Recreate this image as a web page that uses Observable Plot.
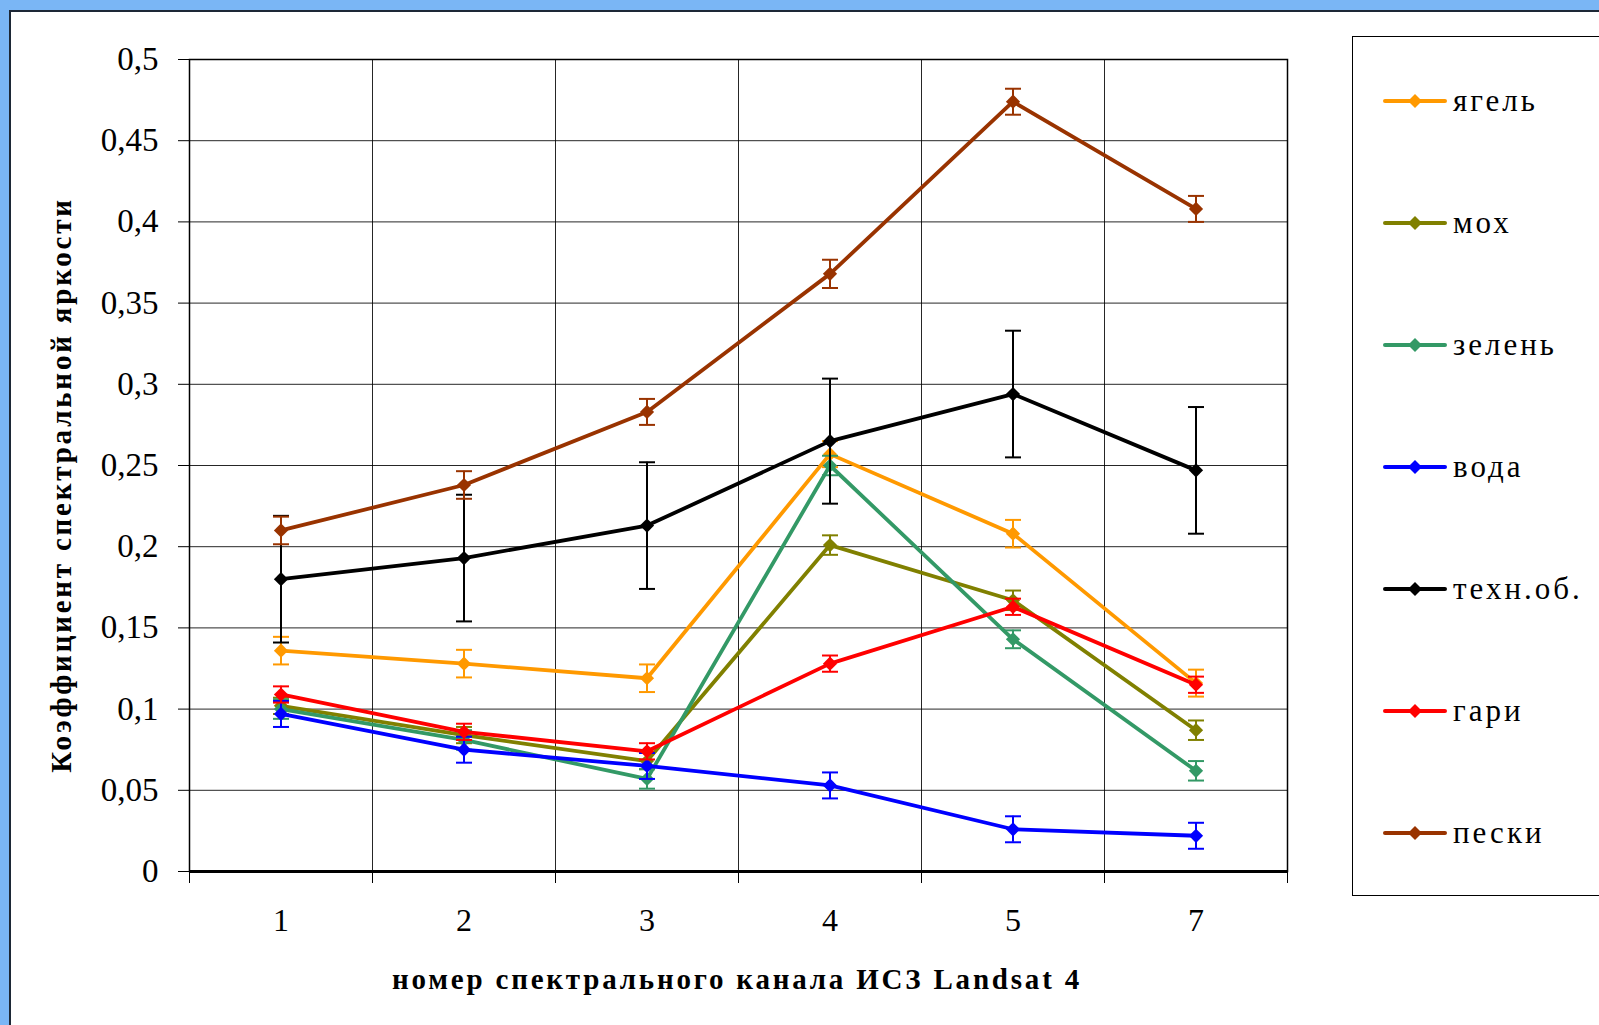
<!DOCTYPE html>
<html><head><meta charset="utf-8">
<script src="https://cdn.jsdelivr.net/npm/d3@7"></script>
<script src="https://cdn.jsdelivr.net/npm/@observablehq/plot@0.6"></script>
<style>
html,body{margin:0;padding:0;}
body{width:1599px;height:1025px;background:#7ab6f5;position:relative;overflow:hidden;font-family:"Liberation Serif","Times New Roman",serif;}
#panel{position:absolute;left:9px;top:10px;width:1600px;height:1030px;background:#fff;border-left:2px solid #1d2836;border-top:2px solid #1d2836;}
#chart{position:absolute;left:0;top:0;}
#legend{position:absolute;left:1352px;top:36px;width:260px;height:858px;border:1.5px solid #000;border-right:none;background:#fff;}
.item{position:absolute;left:0;height:40px;width:260px;}
.item svg{position:absolute;left:30px;top:12px;}
.item span{position:absolute;left:100px;top:0;font-size:31px;letter-spacing:3px;line-height:40px;color:#000;font-family:"Liberation Serif",serif;}
#ytitle{position:absolute;left:61px;top:485px;transform:translate(-50%,-50%) rotate(-90deg);white-space:nowrap;font-weight:bold;font-size:29px;letter-spacing:2.8px;}
#xtitle{position:absolute;left:737px;top:979px;transform:translate(-50%,-50%);white-space:nowrap;font-weight:bold;font-size:29px;letter-spacing:2.8px;}
</style>
</head><body>
<div id="panel"></div>
<div id="chart"></div>
<div id="legend"></div>
<div id="ytitle">Коэффициент спектральной яркости</div>
<div id="xtitle">номер спектрального канала ИСЗ Landsat 4</div>
<script>
// Categories: spectral channel numbers of Landsat 4
const channels = ["1", "2", "3", "4", "5", "7"];
const seriesNames = ["ягель", "мох", "зелень", "вода", "техн.об.", "гари", "пески"];
const seriesColors = ["#FF9900", "#808000", "#339966", "#0000FF", "#000000", "#FF0000", "#993300"];

// values per series
const yagel   = [0.136, 0.128, 0.119, 0.257, 0.208, 0.116];
const mokh    = [0.102, 0.084, 0.068, 0.201, 0.167, 0.087];
const zelen   = [0.100, 0.081, 0.057, 0.250, 0.143, 0.062];
const voda    = [0.097, 0.075, 0.065, 0.053, 0.026, 0.022];
const tekhnob = [0.180, 0.193, 0.213, 0.265, 0.294, 0.247];
const gari    = [0.109, 0.086, 0.074, 0.128, 0.163, 0.115];
const peski   = [0.210, 0.238, 0.283, 0.368, 0.474, 0.408];

// error bar half-widths
const yagelErr   = [0.0085, 0.0085, 0.0085, 0.008, 0.0085, 0.0083];
const mokhErr    = [0.005, 0.005, 0.005, 0.006, 0.006, 0.006];
const zelenErr   = [0.006, 0.006, 0.006, 0.006, 0.0055, 0.006];
const vodaErr    = [0.008, 0.008, 0.008, 0.008, 0.008, 0.008];
const tekhnobErr = [0.039, 0.039, 0.039, 0.0385, 0.039, 0.039];
const gariErr    = [0.005, 0.005, 0.005, 0.005, 0.005, 0.005];
const peskiErr   = [0.0085, 0.0085, 0.008, 0.0087, 0.008, 0.008];

const yTicks = [0, 0.05, 0.1, 0.15, 0.2, 0.25, 0.3, 0.35, 0.4, 0.45, 0.5];

const seriesValues = [yagel, mokh, zelen, voda, tekhnob, gari, peski];
const seriesErrors = [yagelErr, mokhErr, zelenErr, vodaErr, tekhnobErr, gariErr, peskiErr];

const rows = [];
seriesNames.forEach((s, si) => {
  channels.forEach((c, ci) => {
    rows.push({series: s, si, idx: ci + 1, channel: c, v: seriesValues[si][ci], e: seriesErrors[si][ci]});
  });
});

const boundaries = d3.range(channels.length + 1).map(i => i + 0.5);
const centers = channels.map((c, i) => i + 1);
const fmt = d => String(d).replace(".", ",");

const cap = {draw(ctx, size) { const w = 8; ctx.moveTo(-w, 0); ctx.lineTo(w, 0); }};

const marks = [
  Plot.gridY(yTicks, {stroke: "#000", strokeOpacity: 0.85, strokeWidth: 1}),
  Plot.gridX(boundaries, {stroke: "#000", strokeOpacity: 0.85, strokeWidth: 1}),
  Plot.frame({stroke: "#000", strokeWidth: 1.5}),
  Plot.axisY({ticks: yTicks, tickSize: 11, tickPadding: 20, tickFormat: fmt, fontSize: 33, label: null}),
  Plot.axisX({ticks: boundaries, tickSize: 12, tickFormat: () => "", label: null}),
  Plot.axisX({ticks: centers, tickSize: 0, tickPadding: 37, tickFormat: i => channels[i - 1], fontSize: 32, label: null}),
  Plot.ruleY([0], {stroke: "#000", strokeWidth: 3})
];

seriesNames.forEach((s, si) => {
  const data = rows.filter(d => d.si === si);
  const col = seriesColors[si];
  marks.push(
    Plot.ruleX(data, {x: "idx", y1: d => d.v - d.e, y2: d => d.v + d.e, stroke: col, strokeWidth: 2}),
    Plot.dot(data, {x: "idx", y: d => d.v - d.e, symbol: cap, r: 1, stroke: col, strokeWidth: 2, fill: "none"}),
    Plot.dot(data, {x: "idx", y: d => d.v + d.e, symbol: cap, r: 1, stroke: col, strokeWidth: 2, fill: "none"}),
    Plot.line(data, {x: "idx", y: "v", stroke: col, strokeWidth: 3.8, strokeLinejoin: "round"}),
    Plot.dot(data, {x: "idx", y: "v", symbol: "diamond2", r: 6.4, fill: col, stroke: "none"})
  );
});

const chart = Plot.plot({
  width: 1599,
  height: 1025,
  marginLeft: 189,
  marginRight: 312,
  marginTop: 59,
  marginBottom: 154,
  style: {background: "transparent", fontFamily: "'Liberation Serif', 'Times New Roman', serif", color: "#000", overflow: "visible"},
  x: {type: "linear", domain: [0.5, channels.length + 0.5], axis: null},
  y: {domain: [0, 0.5], axis: null},
  marks
});
document.getElementById("chart").appendChild(chart);

// Legend
const legend = document.getElementById("legend");
seriesNames.forEach((s, i) => {
  const item = document.createElement("div");
  item.className = "item";
  item.style.top = (44 + i * 122) + "px";
  const col = seriesColors[i];
  item.innerHTML = `<svg width="64" height="16"><line x1="2" y1="8" x2="62" y2="8" stroke="${col}" stroke-width="4" stroke-linecap="round"/><path d="M32 1 L39 8 L32 15 L25 8 Z" fill="${col}"/></svg><span>${s}</span>`;
  legend.appendChild(item);
});
</script>
</body></html>
